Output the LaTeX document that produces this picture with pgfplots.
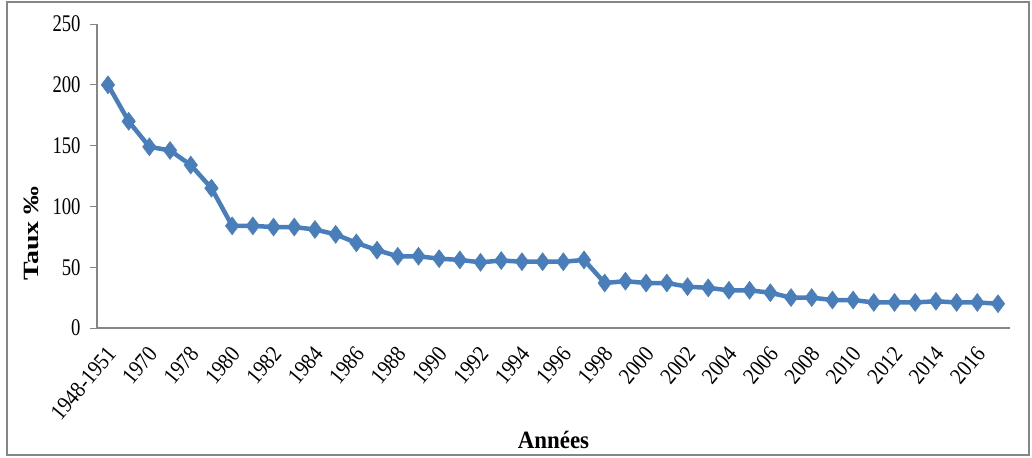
\documentclass[border=0pt]{standalone}
\usepackage{pgfplots}
\pgfplotsset{compat=1.18}
\usepackage{fontspec}
\usepackage{graphicx}
\setmainfont{Liberation Serif}
\newfontfamily\tickfont[FakeStretch=0.78]{Liberation Serif}
\newfontfamily\xtickfont[FakeStretch=0.88]{Liberation Serif}
\newfontfamily\labfont[FakeStretch=0.92]{Liberation Serif}
\definecolor{xlblue}{HTML}{4A7EBB}
\definecolor{axgray}{HTML}{868686}
\pgfplotstableread{
x y
0 200
1 170
2 149
3 146
4 134
5 115
6 84
7 84
8 83
9 83
10 81
11 77
12 70
13 64
14 59
15 59
16 57
17 56
18 54
19 55.5
20 54.5
21 54.5
22 54.5
23 56
24 37
25 38.5
26 37
27 37
28 34
29 33
30 31
31 31
32 29
33 25
34 25
35 23
36 23
37 21
38 21
39 21
40 22
41 21
42 21
43 20
}\datatable
\begin{document}
\begin{tikzpicture}
\path[use as bounding box] (-97bp,-130bp) rectangle (935bp,328bp);
\draw[axgray, line width=1.5bp] (-90bp,-127bp) rectangle (932bp,326bp);
\begin{axis}[
  scale only axis,
  width=913bp, height=304bp,
  xmin=-0.53, xmax=43.58,
  ymin=0, ymax=250,
  ytick={0,50,...,250},
  xtick={0,2,...,42},
  xticklabels={1948-1951,1970,1978,1980,1982,1984,1986,1988,1990,1992,1994,1996,1998,2000,2002,2004,2006,2008,2010,2012,2014,2016},
  axis x line*=bottom,
  axis y line*=left,
  axis line style={axgray, line width=1.2bp, -},
  tick align=outside,
  major tick length=7bp,
  ytick style={axgray, line width=1bp},
  xtick style={draw=none},
  /pgf/number format/assume math mode=true,
  yticklabel style={font=\fontsize{24}{26}\selectfont\tickfont, anchor=east, xshift=-6bp},
  xticklabel style={font=\fontsize{23}{25}\selectfont\xtickfont, rotate=50, anchor=east, inner sep=1bp, yshift=-12bp, xshift=-8bp},
  xlabel={\labfont\bfseries Années},
  xlabel style={font=\fontsize{25}{27}\selectfont, at={(rel axis cs:0.5,0)}, anchor=center, yshift=-112bp},
  ylabel={\scalebox{1}[0.78]{\bfseries Taux ‰}},
  ylabel style={font=\fontsize{28}{30}\selectfont, at={(rel axis cs:0,0.31)}, anchor=center, yshift=66bp},
  clip=false,
]
\addplot[xlblue, line width=4.5bp, mark=diamond*, mark size=9bp, mark options={fill=xlblue, draw=xlblue, line width=0.5bp}] table[x=x, y=y] {\datatable};
\end{axis}
\end{tikzpicture}
\end{document}
